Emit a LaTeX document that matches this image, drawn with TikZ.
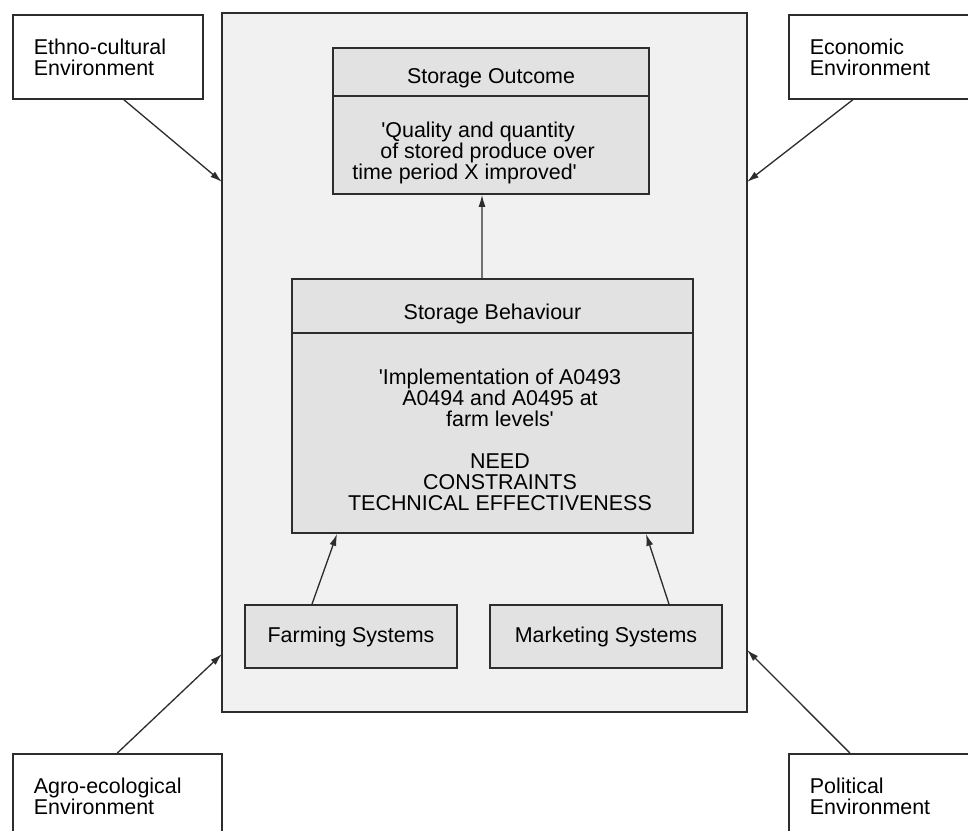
\documentclass[tikz,border=0pt]{standalone}
\usepackage{fontspec}
\setmainfont{Liberation Sans}
\usetikzlibrary{arrows.meta}
\definecolor{frameG}{RGB}{241,241,241}
\definecolor{boxG}{RGB}{226,226,226}
\definecolor{lineG}{RGB}{45,45,45}
\newcommand{\sq}{\textquotesingle}

\begin{document}
\begin{tikzpicture}[x=0.02cm,y=-0.02cm,>={Latex[length=2.4mm,width=1.4mm]},
  font=\fontsize{12.2}{11.95}\selectfont,
  envbox/.style={draw=lineG,line width=1pt,fill=white,anchor=north west,
    align=left,inner xsep=0.42cm,inner ysep=0pt,text width=2.96cm,minimum height=1.68cm},
  sysbox/.style={draw=lineG,line width=1pt,fill=boxG,inner sep=0pt},
  txt/.style={inner sep=0pt},
  arr/.style={->,lineG,line width=0.75pt}]
\useasboundingbox (0,0) rectangle (968,831);
\clip (0,0) rectangle (968,831);

% the storage system frame
\node[draw=lineG,line width=0.9pt,fill=frameG,inner sep=0pt,
  minimum width=10.5cm,minimum height=13.98cm] (outer) at (484.5,362.5) {};

% environments round the frame
\node[envbox] (ethno) at (12,14) {Ethno-cultural\\Environment};
\node[envbox] (econ) at (788,14) {Economic\\Environment};
\node[envbox,text width=3.34cm] (agro) at (12,753) {Agro-ecological\\Environment};
\node[envbox] (pol) at (788,753) {Political\\Environment};

% outcome
\node[sysbox,minimum width=6.32cm,minimum height=0.96cm,text height=0.48cm,text depth=0pt]
  (otitle) at (491,72) {Storage Outcome};
\node[sysbox,minimum width=6.32cm,minimum height=1.96cm] (obody) at (491,145) {};
\node[txt,anchor=north west,align=left] (obody-t) at (352,121.4)
  {\hspace*{0.58cm}\sq Quality and quantity\\
   \hspace*{0.56cm}of stored produce over\\
   time period X improved\sq};

% behaviour
\node[sysbox,minimum width=8.02cm,minimum height=1.08cm,text height=0.56cm,text depth=0pt]
  (btitle) at (492.5,306) {Storage Behaviour};
\node[sysbox,minimum width=8.02cm,minimum height=4cm] (bbody) at (492.5,433) {};
\node[txt,anchor=north,align=center] (bbody-t) at (500,368.4)
  {\sq Implementation of A0493\\A0494 and A0495 at\\farm levels\sq\\[0.42cm]
   NEED\\CONSTRAINTS\\TECHNICAL EFFECTIVENESS};

% systems
\node[sysbox,minimum width=4.24cm,minimum height=1.26cm] (farm) at (351,636.5) {Farming Systems};
\node[sysbox,minimum width=4.64cm,minimum height=1.26cm] (mark) at (606,636.5) {Marketing Systems};

% where the environments meet the frame
\coordinate (ethno-in) at (222,182);
\coordinate (econ-in) at (747,182);
\coordinate (agro-in) at (222,654);
\coordinate (pol-in) at (747,650);

\draw[arr] ([xshift=0.32cm]ethno.south) -- (ethno-in);
\draw[arr] ([xshift=-0.62cm]econ.south) -- (econ-in);
\draw[arr] (agro.north) -- (agro-in);
\draw[arr] ([xshift=-0.68cm]pol.north) -- (pol-in);

\draw[arr] ([xshift=-0.78cm]farm.north) -- ([xshift=-3.11cm]bbody.south);
\draw[arr] ([xshift=1.26cm]mark.north) -- ([xshift=3.07cm]bbody.south);
\draw[arr] ([xshift=-0.21cm]btitle.north) -- ([xshift=-0.18cm]obody.south);
\end{tikzpicture}
\end{document}
